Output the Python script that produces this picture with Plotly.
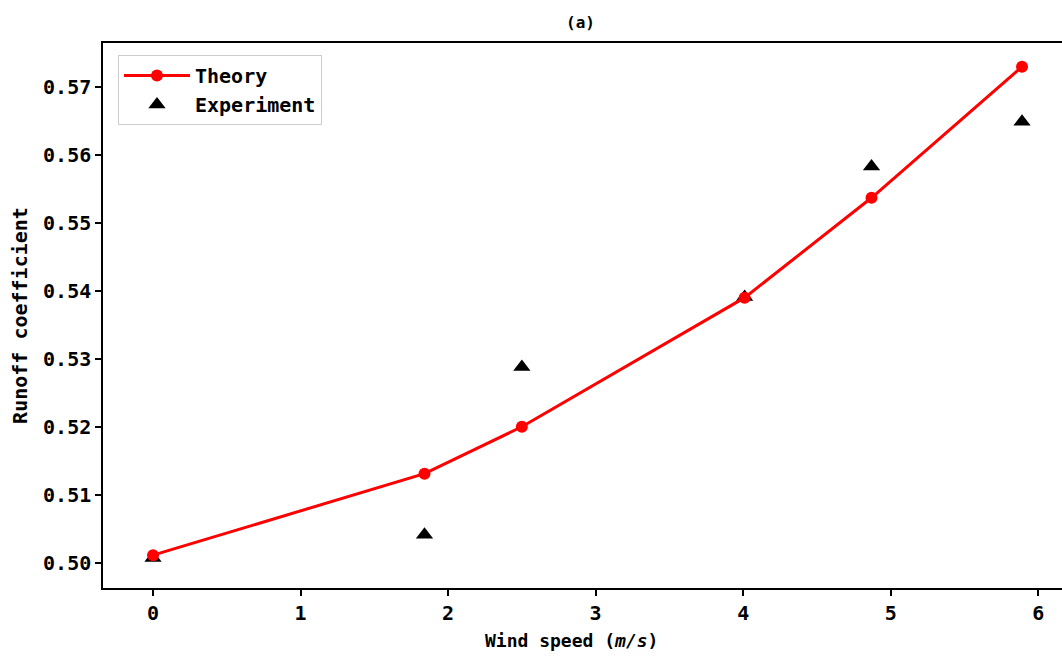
import plotly.graph_objects as go

wind_theory = [0.0, 1.84, 2.50, 4.01, 4.87, 5.89]
runoff_theory = [0.5011, 0.5131, 0.5200, 0.5390, 0.5537, 0.5730]
wind_exp = [0.0, 1.84, 2.50, 4.01, 4.87, 5.89]
runoff_exp = [0.5007, 0.5041, 0.5288, 0.5391, 0.5583, 0.5649]
x_ticks = [0, 1, 2, 3, 4, 5, 6]
y_ticks = [0.50, 0.51, 0.52, 0.53, 0.54, 0.55, 0.56, 0.57]

FONT = "DejaVu Sans Mono"

fig = go.Figure()
fig.add_trace(go.Scatter(
    x=wind_exp, y=runoff_exp, mode="markers", name="Experiment",
    marker=dict(symbol="triangle-up", size=15, color="black"),
))
fig.add_trace(go.Scatter(
    x=wind_theory, y=runoff_theory, mode="lines+markers", name="Theory",
    line=dict(color="#ff0000", width=3),
    marker=dict(symbol="circle", size=12, color="#ff0000"),
))

W, H = 1062, 661
L, R, T, B = 103, 0, 43, 73
pw = W - L - R
ph = H - T - B

def bold(size):
    return dict(family=FONT, size=size, color="black", weight="bold")

fig.update_layout(
    width=W, height=H,
    margin=dict(l=L, r=R, t=T, b=B, pad=0),
    paper_bgcolor="white", plot_bgcolor="white",
    font=bold(20),
    showlegend=True,
    legend=dict(
        x=(118 - L) / pw, y=1 - (55 - T) / ph, xanchor="left", yanchor="top",
        traceorder="reversed",
        bgcolor="rgba(255,255,255,0.8)", bordercolor="#cccccc", borderwidth=1,
        font=bold(20),
        itemwidth=66,
        tracegroupgap=2,
    ),
    xaxis=dict(
        range=[-0.339, 6.161], tickmode="array", tickvals=x_ticks,
        ticktext=[str(v) for v in x_ticks],
        showline=True, linecolor="black", linewidth=1.5, mirror=True,
        ticks="outside", ticklen=6, tickwidth=1.5, tickcolor="black",
        showgrid=False, zeroline=False,
        tickfont=bold(20),
    ),
    yaxis=dict(
        range=[0.49627, 0.57648], tickmode="array", tickvals=y_ticks,
        ticktext=["%.2f" % v for v in y_ticks],
        showline=True, linecolor="black", linewidth=1.5,
        ticks="outside", ticklen=6, tickwidth=1.5, tickcolor="black",
        showgrid=False, zeroline=False,
        tickfont=bold(20),
        title=dict(text="Runoff coefficient", font=bold(20), standoff=10),
    ),
    annotations=[
        dict(text="(a)", x=(580 - L) / pw, y=(H - B - 22) / ph, xref="paper", yref="paper",
             xanchor="center", yanchor="middle", showarrow=False, font=bold(16)),
        dict(text="Wind speed (<i>m/s</i>)", x=(571 - L) / pw, y=-(640 - (H - B)) / ph,
             xref="paper", yref="paper", xanchor="center", yanchor="middle",
             showarrow=False, font=bold(18)),
    ],
)

fig.write_html(
    "out.html",
    config={"displayModeBar": False},
    post_script="document.body.style.margin='0';document.body.style.overflow='hidden';",
)
